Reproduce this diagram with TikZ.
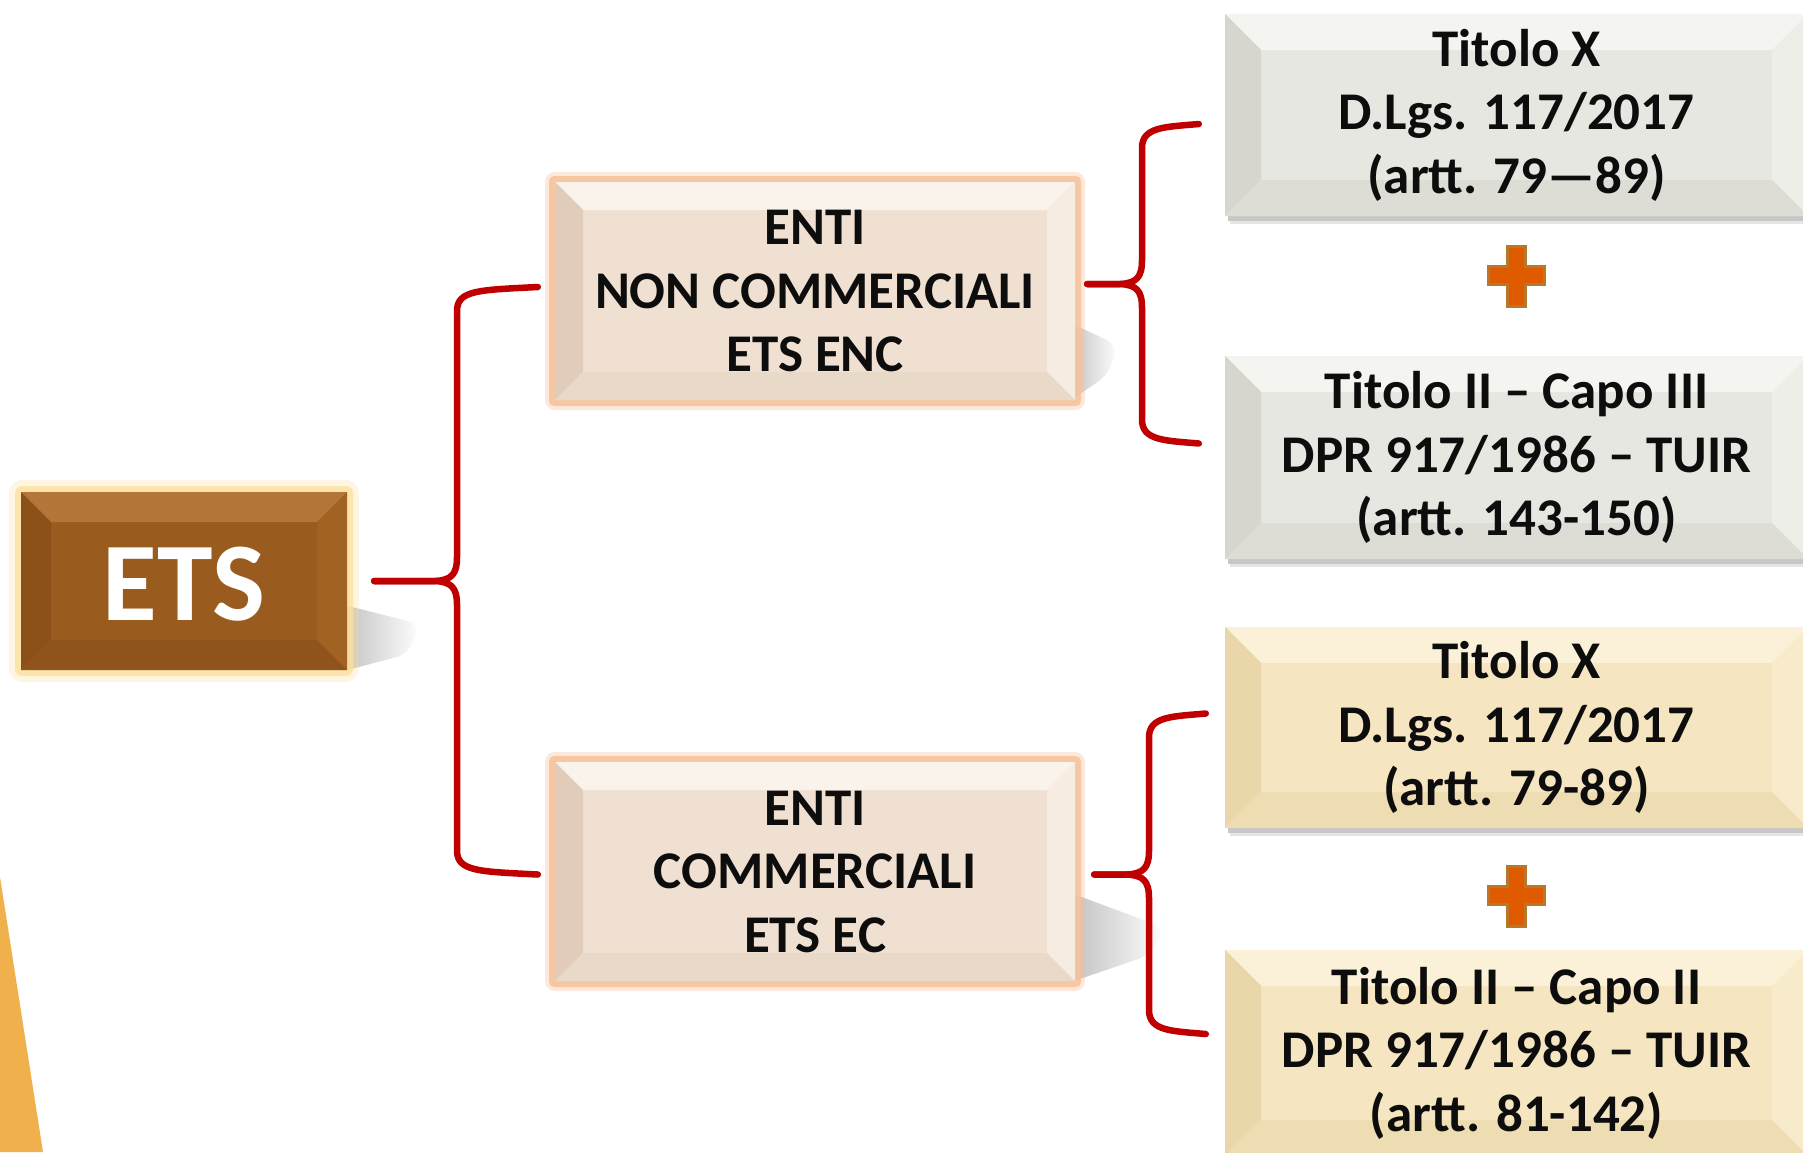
\documentclass[tikz,border=0pt]{standalone}
\usepackage{fontspec}
\setmainfont{Carlito}
\usetikzlibrary{calc,fadings}

\definecolor{bracered}{HTML}{C00000}
\definecolor{inkblack}{HTML}{0D0D0D}
\definecolor{cornerorange}{HTML}{F0B04C}
\definecolor{plusfill}{HTML}{E05A00}
\definecolor{plusedge}{HTML}{B8782A}
% brown ETS box
\definecolor{etsface}{HTML}{9A5B1F}
\definecolor{etstop}{HTML}{B5763A}
\definecolor{etsleft}{HTML}{8C5019}
\definecolor{etsright}{HTML}{A16222}
\definecolor{etsbot}{HTML}{8F531B}
\definecolor{etsglow}{HTML}{FCE0A0}
% peach boxes
\definecolor{encface}{HTML}{F0E0D2}
\definecolor{enctop}{HTML}{FAF3EC}
\definecolor{encleft}{HTML}{E1CCBA}
\definecolor{encright}{HTML}{F6ECE2}
\definecolor{encbot}{HTML}{E9D9C9}
\definecolor{encglow}{HTML}{F7C29A}
% grey boxes
\definecolor{greyface}{HTML}{E7E7E1}
\definecolor{greytop}{HTML}{F4F4F0}
\definecolor{greyleft}{HTML}{D6D6CE}
\definecolor{greyright}{HTML}{EEEEE9}
\definecolor{greybot}{HTML}{DDDDD6}
% cream boxes
\definecolor{creamface}{HTML}{F5E5C0}
\definecolor{creamtop}{HTML}{FBF1D8}
\definecolor{creamleft}{HTML}{E9D6A9}
\definecolor{creamright}{HTML}{F8EBCB}
\definecolor{creambot}{HTML}{EEDCB3}

% bevelled rectangle: x1, y1, x2, y2, inset, palette prefix
\newcommand\bevelbox[6]{%
  \fill[#6face] (#1,#2) rectangle (#3,#4);
  \fill[#6top] (#1,#2) -- (#3,#2) -- ({#3-#5},{#2+#5}) -- ({#1+#5},{#2+#5}) -- cycle;
  \fill[#6left] (#1,#2) -- ({#1+#5},{#2+#5}) -- ({#1+#5},{#4-#5}) -- (#1,#4) -- cycle;
  \fill[#6right] (#3,#2) -- ({#3-#5},{#2+#5}) -- ({#3-#5},{#4-#5}) -- (#3,#4) -- cycle;
  \fill[#6bot] (#1,#4) -- ({#1+#5},{#4-#5}) -- ({#3-#5},{#4-#5}) -- (#3,#4) -- cycle;
}

% curly brace: stem start, spine x (canvas pt), upper tip, lower tip
\newcommand\curlybrace[4]{%
  \draw[redbrace] let \p1=(#1), \p2=(#3), \p3=(#4) in
    (\p2) .. controls ({#2+22pt},{\y2-3pt}) and ({#2},{\y2-3pt}) .. ({#2},{\y2-24pt})
    -- ({#2},{\y1+24pt}) .. controls ({#2},{\y1+6pt}) and ({#2-6pt},{\y1+1pt}) .. ({#2-22pt},{\y1})
    -- (\p1);
  \draw[redbrace] let \p1=(#1), \p2=(#3), \p3=(#4) in
    (\p1) -- ({#2-22pt},{\y1}) .. controls ({#2-6pt},{\y1-1pt}) and ({#2},{\y1-6pt}) .. ({#2},{\y1-24pt})
    -- ({#2},{\y3+24pt}) .. controls ({#2},{\y3+3pt}) and ({#2+22pt},{\y3+3pt}) .. (\p3);
}

\tikzset{
  redbrace/.style={draw=bracered, line width=6.5pt, line cap=round, line join=round},
  boxtext/.style={inner sep=0pt, align=center, text=inkblack,
    font=\fontsize{53}{63.5}\selectfont\bfseries},
  etstext/.style={inner sep=0pt, align=center, text=white,
    font=\fontsize{112}{130}\selectfont\bfseries},
  plussign/.style={fill=plusfill, draw=plusedge, line width=3pt},
  boxshadow/.style={fill=black!45, path fading=east, opacity=.55},
}

\begin{document}
\begin{tikzpicture}[x=1pt, y=-1pt]
\useasboundingbox (0,0) rectangle (1803,1152);
\clip (0,0) rectangle (1803,1152);
\fill[white] (0,0) rectangle (1803,1152);

% orange wedge in the lower left corner
\fill[cornerorange] (0,877) -- (43,1152) -- (0,1152) -- cycle;

% drop shadows
\fill[boxshadow, rounded corners=12] (340,604) -- (420,624) -- (408,654) -- (340,672) -- cycle;
\fill[boxshadow, rounded corners=12] (1068,322) -- (1118,345) -- (1108,375) -- (1068,402) -- cycle;
\fill[boxshadow, rounded corners=12] (1068,892) -- (1165,928) -- (1150,955) -- (1068,983) -- cycle;

% ETS box with glow
\fill[etsglow, opacity=.3, rounded corners=14] (9,480) rectangle (359,682);
\fill[etsglow, opacity=.8, rounded corners=7] (15,486) rectangle (353,676);
\bevelbox{21}{492}{347}{670}{30}{ets}
\node[etstext, minimum width=326pt, minimum height=178pt] (ets) at (184,581) {};
\node[etstext] at (184,584) {ETS};

% peach boxes with glow
\foreach \ya/\yb in {182/400, 762/981} {
  \fill[encglow, opacity=.35, rounded corners=10] (545,\ya-10) rectangle (1085,\yb+10);
  \fill[encglow, opacity=.85, rounded corners=5] (549,\ya-6) rectangle (1081,\yb+6);
  \bevelbox{555}{\ya}{1075}{\yb}{28}{enc}
}
\node[boxtext, minimum width=520pt, minimum height=218pt] (enc) at (815,291)
  {ENTI\\NON COMMERCIALI\\ETS ENC};
\node[boxtext, minimum width=520pt, minimum height=219pt] (ec) at (815,871.5)
  {ENTI\\COMMERCIALI\\ETS EC};

% right-hand boxes, with a soft line of shadow under each
\foreach \ya/\yb/\pal in {14/216/grey, 356/559/grey, 627/828/cream, 950/1156/cream} {
  \fill[black!22] (1228,\yb) rectangle (1808,\yb+5);
  \fill[black!10] (1230,\yb+5) rectangle (1808,\yb+8);
  \bevelbox{1225}{\ya}{1808}{\yb}{36}{\pal}
}
\node[boxtext, minimum width=583pt, minimum height=202pt] (r1) at (1516.5,115)
  {Titolo X\\D.Lgs. 117/2017\\(artt. 79—89)};
\node[boxtext, minimum width=583pt, minimum height=203pt] (r2) at (1516.5,457.5)
  {Titolo II – Capo III\\DPR 917/1986 – TUIR\\(artt. 143-150)};
\node[boxtext, minimum width=583pt, minimum height=201pt] (r3) at (1516.5,727.5)
  {Titolo X\\D.Lgs. 117/2017\\(artt. 79-89)};
\node[boxtext, minimum width=583pt, minimum height=206pt] (r4) at (1516.5,1053)
  {Titolo II – Capo II\\DPR 917/1986 – TUIR\\(artt. 81-142)};

% plus signs between the paired boxes
\foreach \cy/\nm in {275/plusA, 895/plusB} {
  \node[inner sep=0pt, minimum size=1pt] (\nm) at (1516,\cy) {};
  \filldraw[plussign] (1507,\cy-29) -- (1525,\cy-29) -- (1525,\cy-9) -- (1544,\cy-9)
    -- (1544,\cy+9) -- (1525,\cy+9) -- (1525,\cy+31) -- (1507,\cy+31) -- (1507,\cy+9)
    -- (1488,\cy+9) -- (1488,\cy-9) -- (1507,\cy-9) -- cycle;
}

% braces
\coordinate (b1s) at ([xshift=27pt]ets.east);
\coordinate (b1t) at ([xshift=-17pt,yshift=4pt]enc.west);
\coordinate (b1b) at ([xshift=-17pt,yshift=-3pt]ec.west);
\curlybrace{b1s}{457pt}{b1t}{b1b}

\coordinate (b2s) at ([xshift=12pt,yshift=7pt]enc.east);
\coordinate (b2t) at ([xshift=-26pt,yshift=-9pt]r1.west);
\coordinate (b2b) at ([xshift=-26pt,yshift=14pt]r2.west);
\curlybrace{b2s}{1142pt}{b2t}{b2b}

\coordinate (b3s) at ([xshift=19pt,yshift=-3pt]ec.east);
\coordinate (b3t) at ([xshift=-19pt,yshift=14pt]r3.west);
\coordinate (b3b) at ([xshift=-19pt,yshift=19pt]r4.west);
\curlybrace{b3s}{1149pt}{b3t}{b3b}
\end{tikzpicture}
\end{document}
